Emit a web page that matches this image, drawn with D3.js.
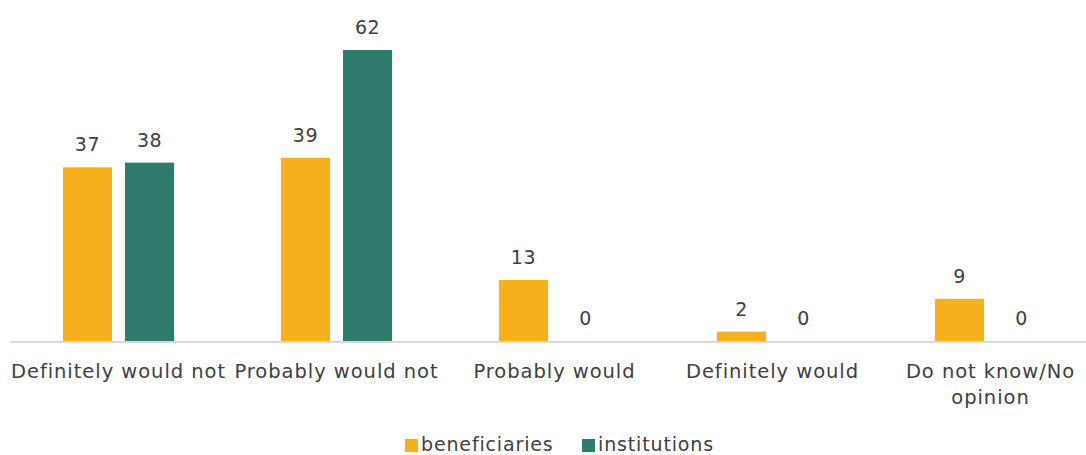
<!DOCTYPE html>
<html>
<head>
<meta charset="utf-8">
<script src="https://cdn.jsdelivr.net/npm/d3@7"></script>
<style>
  body { margin: 0; background: #fff; }
  svg { display: block; font-family: "DejaVu Sans", Verdana, sans-serif; }
</style>
</head>
<body>
<svg></svg>
<script>
const width = 1086;
const height = 455;

// data
const categories = ["Definitely would not", "Probably would not", "Probably would", "Definitely would", "Do not know/No opinion"];
const seriesNames = ["beneficiaries", "institutions"];
const beneficiaries = [37, 39, 13, 2, 9];
const institutions = [38, 62, 0, 0, 0];
const colors = ["#F6B01C", "#2F7B6E"];

const svg = d3.select("svg")
    .attr("width", width)
    .attr("height", height);

const x0 = d3.scaleBand()
    .domain(categories)
    .range([9.5, 1099.5]);

const x1 = d3.scaleBand()
    .domain(seriesNames)
    .range([x0.bandwidth() * 0.245, x0.bandwidth() * 0.755])
    .paddingInner(0.21);

const y = d3.scaleLinear()
    .domain([0, 70])
    .range([341, 12.4]);

const color = d3.scaleOrdinal().domain(seriesNames).range(colors);

const rows = categories.map((c, i) => ({
    cat: c,
    vals: [
        {key: "beneficiaries", value: beneficiaries[i]},
        {key: "institutions", value: institutions[i]}
    ]
}));

const groups = svg.selectAll(".grp")
    .data(rows)
    .enter().append("g")
        .attr("class", "grp")
        .attr("transform", d => "translate(" + x0(d.cat) + ",0)");

groups.selectAll("rect")
    .data(d => d.vals)
    .enter().append("rect")
        .attr("x", d => x1(d.key))
        .attr("width", x1.bandwidth())
        .attr("y", d => y(d.value))
        .attr("height", d => y(0) - y(d.value))
        .attr("fill", d => color(d.key));

groups.selectAll("text")
    .data(d => d.vals)
    .enter().append("text")
        .attr("x", d => x1(d.key) + x1.bandwidth() / 2)
        .attr("y", d => y(d.value) - 16)
        .attr("text-anchor", "middle")
        .attr("font-size", "19px")
        .attr("letter-spacing", "0.5px")
        .attr("fill", "#404040")
        .text(d => d.value);

// baseline
svg.append("line")
    .attr("x1", 10)
    .attr("x2", width)
    .attr("y1", y(0) + 1)
    .attr("y2", y(0) + 1)
    .attr("stroke", "#d9d9d9")
    .attr("stroke-width", 2);

// category labels, wrapped when too wide
svg.selectAll(".cat")
    .data(categories)
    .enter().append("text")
        .attr("class", "cat")
        .attr("x", d => x0(d) + x0.bandwidth() / 2)
        .attr("y", 378)
        .attr("text-anchor", "middle")
        .attr("font-size", "19.5px")
        .attr("letter-spacing", "0.95px")
        .attr("fill", "#404040")
        .each(function(d) {
            let t = d3.select(this);
            t.text(d);
            if (this.getComputedTextLength() > x0.bandwidth()) {
                t.text(null);
                let words = d.split(" ");
                let line = [];
                let lines = [];
                let tmp = t.append("tspan");
                words.forEach(w => {
                    line.push(w);
                    tmp.text(line.join(" "));
                    if (tmp.node().getComputedTextLength() > 200 && line.length > 1) {
                        line.pop();
                        lines.push(line.join(" "));
                        line = [w];
                    }
                });
                lines.push(line.join(" "));
                tmp.remove();
                lines.forEach((l, k) => {
                    t.append("tspan")
                        .attr("x", x0(d) + x0.bandwidth() / 2)
                        .attr("dy", k === 0 ? 0 : 26)
                        .text(l);
                });
            }
        });

// legend
const legend = svg.append("g");
const legendX = [405, 582];
seriesNames.forEach((s, i) => {
    legend.append("rect")
        .attr("x", legendX[i])
        .attr("y", 439)
        .attr("width", 13)
        .attr("height", 13)
        .attr("fill", color(s));
    legend.append("text")
        .attr("x", legendX[i] + 16)
        .attr("y", 451)
        .attr("font-size", "19px")
        .attr("letter-spacing", "0.85px")
        .attr("fill", "#404040")
        .text(s);
});
</script>
</body>
</html>
